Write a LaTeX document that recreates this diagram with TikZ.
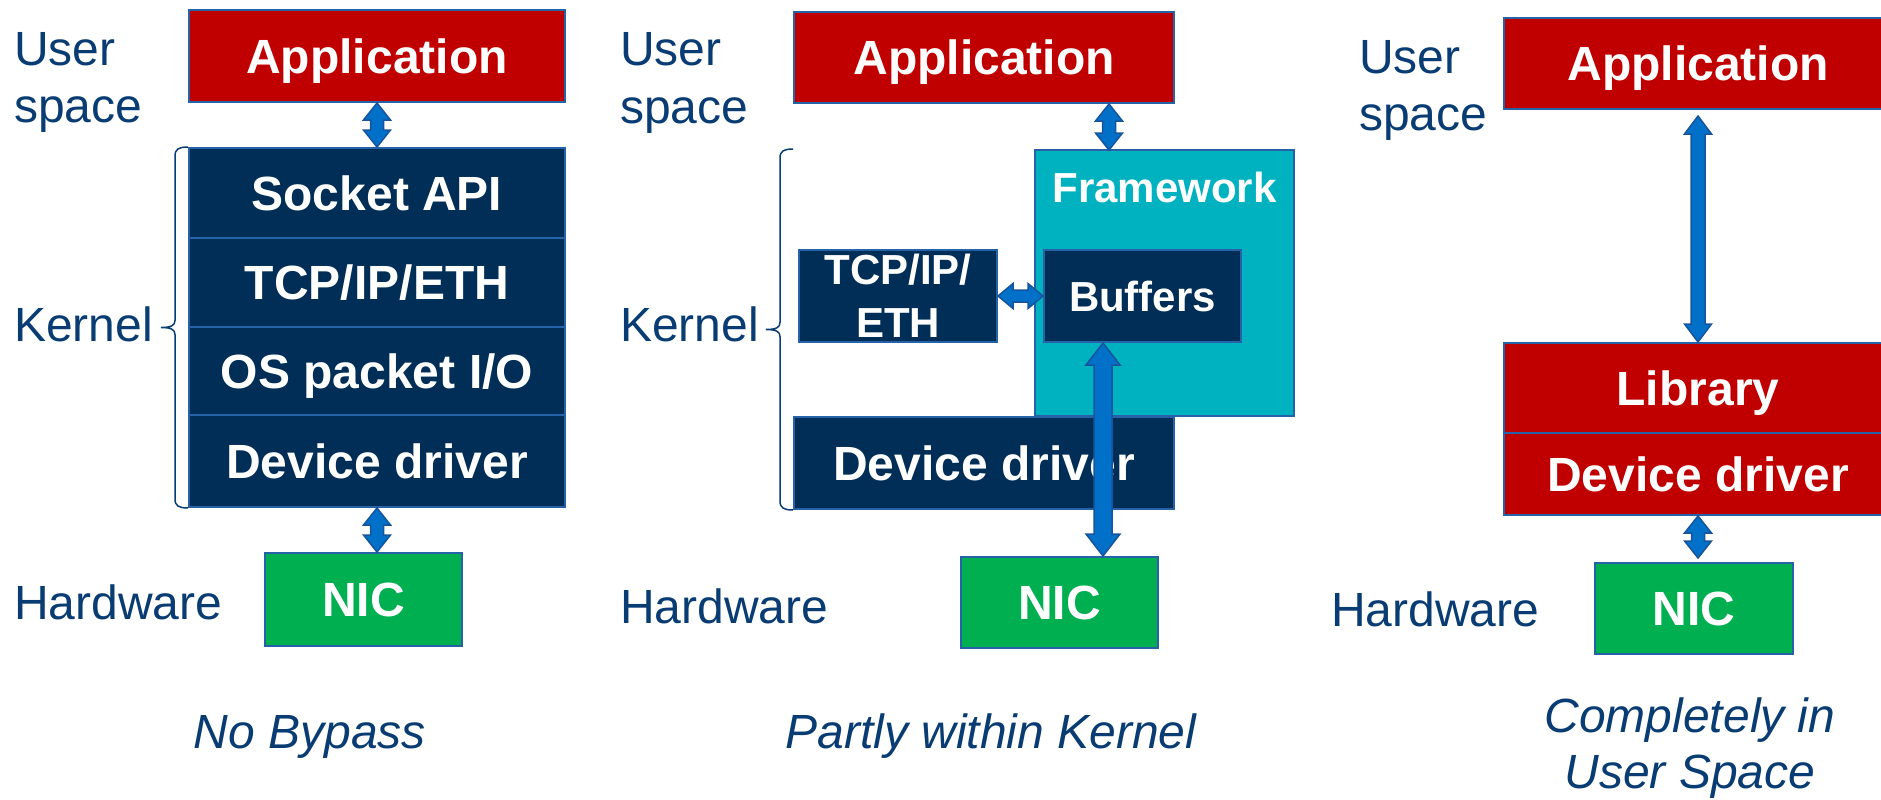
\documentclass[tikz,border=0pt]{standalone}
\usepackage{fontspec}
\setmainfont{Liberation Sans}
\usetikzlibrary{calc}

\definecolor{appred}{RGB}{192,0,0}
\definecolor{kernelnavy}{RGB}{0,46,86}
\definecolor{frameteal}{RGB}{0,178,192}
\definecolor{nicgreen}{RGB}{0,176,80}
\definecolor{edgeblue}{RGB}{38,98,168}
\definecolor{arrowfill}{RGB}{0,112,200}
\definecolor{arrowedge}{RGB}{24,84,156}
\definecolor{labelnavy}{RGB}{8,60,114}

\tikzset{
  layer/.style={draw=edgeblue, line width=2pt, text=white, inner sep=0pt,
    font=\bfseries\fontsize{48}{55}\selectfont, text height=34.4pt, text depth=0pt},
  appbox/.style={layer, fill=appred},
  kernelbox/.style={layer, fill=kernelnavy},
  nicbox/.style={layer, fill=nicgreen},
  fwbox/.style={layer, fill=frameteal},
  smalltext/.style={font=\bfseries\fontsize{42}{53}\selectfont, text height=30pt},
  sidelabel/.style={text=labelnavy, font=\fontsize{48}{56}\selectfont, anchor=base west, inner sep=0pt},
  caption/.style={text=labelnavy, font=\itshape\fontsize{48}{56}\selectfont, anchor=base, inner sep=0pt},
  % curly bracket opening to the right, from a top point down to a bottom point
  kbrace/.style={draw=labelnavy, line width=1.5pt,
    to path={let \p1=(\tikztostart), \p2=(\tikztotarget), \n1={(\y1+\y2)/2} in
      (\p1) .. controls (\x1-9pt,\y1) and (\x1-13pt,\y1-2pt) .. (\x1-13pt,\y1-9pt)
      -- (\x1-13pt,\n1+7pt) .. controls (\x1-13pt,\n1+2pt) and (\x1-17pt,\n1) .. (\x1-27pt,\n1)
      .. controls (\x1-17pt,\n1) and (\x1-13pt,\n1-2pt) .. (\x1-13pt,\n1-7pt)
      -- (\x1-13pt,\y2+9pt) .. controls (\x1-13pt,\y2+2pt) and (\x2-9pt,\y2) .. (\p2)}},
  % double-headed block arrow: shaft half width, head half width, head length
  dblarrow/.style n args={3}{draw=arrowedge, fill=arrowfill, line width=1.5pt, line join=miter,
    to path={let \p1=(\tikztostart), \p2=(\tikztotarget),
      \n1={atan2(\y2-\y1,\x2-\x1)}, \n2={veclen(\x2-\x1,\y2-\y1)} in
      [shift={(\p1)}, rotate=\n1]
      (0pt,0pt) -- (#3pt,#2pt) -- (#3pt,#1pt) -- (\n2-#3pt,#1pt) -- (\n2-#3pt,#2pt)
      -- (\n2,0pt) -- (\n2-#3pt,-#2pt) -- (\n2-#3pt,-#1pt) -- (#3pt,-#1pt)
      -- (#3pt,-#2pt) -- cycle}}
}

\begin{document}
\begin{tikzpicture}[x=1pt, y=-1pt]
\useasboundingbox (0,0) rectangle (1881,800);

% ---------- left column: full kernel stack ----------
\node[sidelabel] (us1a) at (14,66) {User};
\node[sidelabel] (us1b) at (14,122) {space};
\node[sidelabel] (k1) at (14,341) {Kernel};
\node[sidelabel] (hw1) at (14,619) {Hardware};

\node[appbox, minimum width=376pt, minimum height=92pt] (app1) at (377,56) {Application};
\node[kernelbox, minimum width=376pt, minimum height=90pt] (sock) at (377,193) {Socket API};
\node[kernelbox, minimum width=376pt, minimum height=89pt] (tcp1) at (377,282.5) {TCP/IP/ETH};
\node[kernelbox, minimum width=376pt, minimum height=88pt] (osio) at (377,371) {OS packet I/O};
\node[kernelbox, minimum width=376pt, minimum height=92pt] (dd1) at (377,461) {Device driver};
\node[nicbox, minimum width=197pt, minimum height=93pt] (nic1) at (363.5,599.5) {NIC};

\draw[kbrace] (sock.north west) to (dd1.south west);
\draw[dblarrow={6.5}{13.5}{17}] (app1.south) to (sock.north);
\draw[dblarrow={6.5}{13.5}{17}] (dd1.south) to (dd1.south |- nic1.north);

\node[caption] (cap1) at (310,748) {No Bypass};

% ---------- middle column: framework beside the kernel ----------
\node[sidelabel] (us2a) at (620,66) {User};
\node[sidelabel] (us2b) at (620,123) {space};
\node[sidelabel] (k2) at (620,341) {Kernel};
\node[sidelabel] (hw2) at (620,623) {Hardware};

\node[appbox, minimum width=380pt, minimum height=91pt] (app2) at (984,57.5) {Application};
\node[fwbox, minimum width=259pt, minimum height=266pt] (fw) at (1164.5,283) {};
\node[smalltext, text=white, anchor=base, inner sep=0pt] (fwlabel) at (1164.5,202) {Framework};
\node[kernelbox, smalltext, align=center, text height=, minimum width=198pt, minimum height=92pt] (tcp2) at (898,296) {TCP/IP/\\ETH};
\node[kernelbox, smalltext, minimum width=197pt, minimum height=92pt] (buf) at (1142.5,296) {Buffers};
\node[kernelbox, minimum width=380pt, minimum height=92pt] (dd2) at (984,463) {Device driver};
\node[nicbox, minimum width=197pt, minimum height=91pt] (nic2) at (1059.5,602.5) {NIC};

\coordinate (fwin) at (1109,150);
\coordinate (dma) at (1103,342);

\draw[kbrace] (dd2.west |- fw.north) to (dd2.south west);
\draw[dblarrow={6.5}{13.5}{17}] (fwin |- app2.south) to (fwin);
\draw[dblarrow={6}{12.5}{15}] (tcp2.east) to (buf.west);
\draw[dblarrow={9}{17}{22}] (dma |- buf.south) to (dma |- nic2.north);

\node[caption] (cap2) at (991,748) {Partly within Kernel};

% ---------- right column: everything in user space ----------
\node[sidelabel] (us3a) at (1359,74) {User};
\node[sidelabel] (us3b) at (1359,130) {space};
\node[sidelabel] (hw3) at (1331,626) {Hardware};

\node[appbox, minimum width=388pt, minimum height=91pt] (app3) at (1698,63.5) {Application};
\node[appbox, minimum width=388pt, minimum height=90pt] (lib) at (1698,388) {Library};
\node[appbox, minimum width=388pt, minimum height=82pt] (dd3) at (1698,474) {Device driver};
\node[nicbox, minimum width=198pt, minimum height=91pt] (nic3) at (1694,608.5) {NIC};

\draw[dblarrow={7}{13.5}{18}] ($(app3.south)+(0,6)$) to (lib.north);
\draw[dblarrow={6.5}{13.5}{17}] (dd3.south) to ($(dd3.south |- nic3.north)+(0,-4)$);

\node[caption] (cap3a) at (1690,732) {Completely in};
\node[caption] (cap3b) at (1690,788) {User Space};
\end{tikzpicture}
\end{document}
